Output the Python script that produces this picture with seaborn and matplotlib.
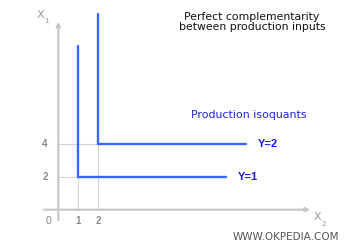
import matplotlib
matplotlib.use("Agg")
import matplotlib.pyplot as plt
import seaborn as sns
import pandas as pd

# ---- data ----
output_levels = [1, 2]               # Y
corner_x2 = [1, 2]                   # X2 at the corner of each isoquant
corner_x1 = [2, 4]                   # X1 at the corner of each isoquant
vertical_top = [10, 12]              # top of the vertical branch
horizontal_end = [8.4, 9.4]          # right end of the horizontal branch
y_ticks = [2, 4]
x_ticks = [1, 2]

rows = []
for y, cx, cy, top, end in zip(output_levels, corner_x2, corner_x1, vertical_top, horizontal_end):
    for i, (px, py) in enumerate([(cx, top), (cx, cy), (end, cy)]):
        rows.append({"Y": f"Y={y}", "X2": px, "X1": py, "order": i})
df = pd.DataFrame(rows)

sns.set_style("white")
fig = plt.figure(figsize=(3.5, 2.5), dpi=100)
ax = fig.add_axes([0, 0, 1, 1])
ax.set_xlim(-2.915, 14.585)
ax.set_ylim(-2.465, 12.826)
ax.axis("off")

axis_col = "#c8c8c8"
grid_col = "#d4d4d4"
tick_col = "#8a8a8a"

# guide lines
for cx, cy in zip(corner_x2, corner_x1):
    ax.plot([0, cx], [cy, cy], color=grid_col, lw=0.8, zorder=1)
    ax.plot([cx, cx], [0, cy], color=grid_col, lw=0.8, zorder=1)

# axes with arrows
ax.annotate("", xy=(0, 11.5), xytext=(0, -0.63),
            arrowprops=dict(arrowstyle="-|>", color=axis_col, lw=1.6, mutation_scale=6, shrinkA=0, shrinkB=0), zorder=2)
ax.annotate("", xy=(12.6, 0), xytext=(-0.72, 0),
            arrowprops=dict(arrowstyle="-|>", color=axis_col, lw=1.6, mutation_scale=6, shrinkA=0, shrinkB=0), zorder=2)

# isoquants
sns.lineplot(data=df, x="X2", y="X1", hue="Y", units="Y", estimator=None, sort=False,
             palette=["#3a66ff", "#3a66ff"], lw=1.7, legend=False, ax=ax, zorder=3)

# tick labels
for v in y_ticks:
    ax.text(-0.665, v, str(v), ha="center", va="center", fontsize=7, color=tick_col,
            fontweight="bold", family="Liberation Sans")
for v in x_ticks:
    ax.text(v, -0.69, str(v), ha="center", va="center", fontsize=7, color=tick_col,
            fontweight="bold", family="Liberation Sans")
ax.text(-0.47, -0.69, "0", ha="center", va="center", fontsize=7.5, color=tick_col, family="Liberation Sans")

# axis names
ax.text(-0.9, 11.9, "X", ha="center", va="center", fontsize=8, color="#999999")
ax.text(-0.6, 11.55, "1", ha="center", va="center", fontsize=5, color="#999999")
ax.text(12.98, -0.45, "X", ha="center", va="center", fontsize=8, color="#999999")
ax.text(13.28, -0.85, "2", ha="center", va="center", fontsize=5, color="#999999")

# curve labels
for y, end, cy in zip(output_levels, horizontal_end, corner_x1):
    ax.text(end + 0.6, cy, f"Y={y}", ha="left", va="center", fontsize=8,
            fontweight="bold", color="#1a1aee", family="Liberation Sans")

ax.text(6.63, 5.79, "Production isoquants", ha="left", va="center", fontsize=7.9, color="#2222dd")

fig.text(252 / 350, 1 - 22 / 250, "Perfect complementarity\nbetween production inputs",
         ha="center", va="center", fontsize=7.8, color="#111111", linespacing=1.0)
fig.text(233 / 350, 1 - 237 / 250, "WWW.OKPEDIA.COM", ha="left", va="center",
         fontsize=7.5, color="#555555")

fig.savefig("out.png", dpi=100)
